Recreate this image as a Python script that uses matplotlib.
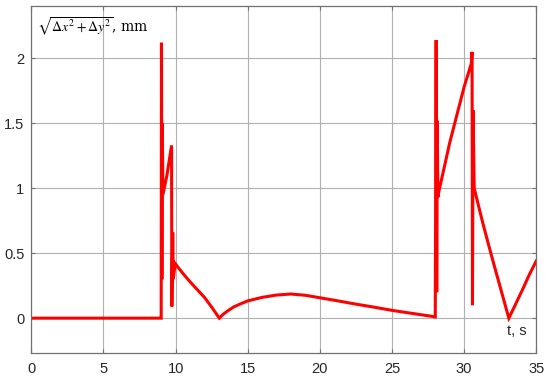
import matplotlib
matplotlib.use("Agg")
import matplotlib.pyplot as plt

# displacement magnitude vs time
t = [0, 8.98, 9.0, 9.02, 9.05, 9.08, 9.12, 9.4, 9.72, 9.74, 9.8, 9.84, 9.97,
     10.5, 11.0, 11.5, 12.0, 12.5, 13.03, 13.3, 13.6, 14.0, 14.5, 15.0, 16.0,
     17.0, 18.0, 19.0, 20.0, 21.0, 22.5, 24.0, 25.0, 26.5, 28.0, 28.06, 28.1,
     28.14, 28.18, 28.22, 29.0, 30.0, 30.5, 30.55, 30.58, 30.62, 30.7, 31.3,
     31.9, 32.5, 33.1, 33.6, 34.05, 34.5, 35.0]
dist = [0, 0, 0, 2.12, 0.3, 1.5, 0.95, 1.1, 1.33, 0.09, 0.66, 0.3, 0.42,
        0.345, 0.28, 0.22, 0.16, 0.085, 0.0, 0.03, 0.055, 0.085, 0.11, 0.133, 0.16,
        0.178, 0.186, 0.176, 0.157, 0.138, 0.108, 0.08, 0.06, 0.035, 0.01, 2.14,
        0.2, 1.52, 0.93, 0.96, 1.35, 1.78, 1.96, 2.05, 0.10, 1.6, 1.0, 0.73,
        0.48, 0.24, 0.0, 0.115, 0.22, 0.33, 0.44]

xticks = [0, 5, 10, 15, 20, 25, 30, 35]
yticks = [0, 0.5, 1, 1.5, 2]
yticklabels = ["0", "0.5", "1", "1.5", "2"]

plt.rcParams["font.family"] = ["Liberation Sans", "DejaVu Sans"]
plt.rcParams["mathtext.fontset"] = "stix"

fig = plt.figure(figsize=(5.5, 3.82), dpi=100)
ax = fig.add_axes([0.057, 0.077, 0.918, 0.908])

ax.plot(t, dist, color="#ff0000", lw=2.2, solid_joinstyle="miter")

ax.set_xlim(0, 35)
ax.set_ylim(-0.265, 2.405)
ax.set_xticks(xticks)
ax.set_yticks(yticks)
ax.set_yticklabels(yticklabels)
ax.grid(True, color="#b0b0b0", lw=0.8)
ax.set_axisbelow(True)
ax.tick_params(direction="in", length=3, color="#707070", labelsize=10.5,
               labelcolor="#262626", top=True, right=True)
ax.tick_params(axis="x", pad=7)
ax.tick_params(axis="y", pad=5)
for s in ax.spines.values():
    s.set_color("#707070")
    s.set_linewidth(0.9)

ax.text(0.012, 0.97, r"$\sqrt{\Delta x^2+\Delta y^2}$, mm", transform=ax.transAxes,
        ha="left", va="top", fontsize=10, family="serif")
ax.text(34.3, -0.1, "t, s", ha="right", va="center", fontsize=10.5, color="#262626")

fig.savefig("out.png", dpi=100)
